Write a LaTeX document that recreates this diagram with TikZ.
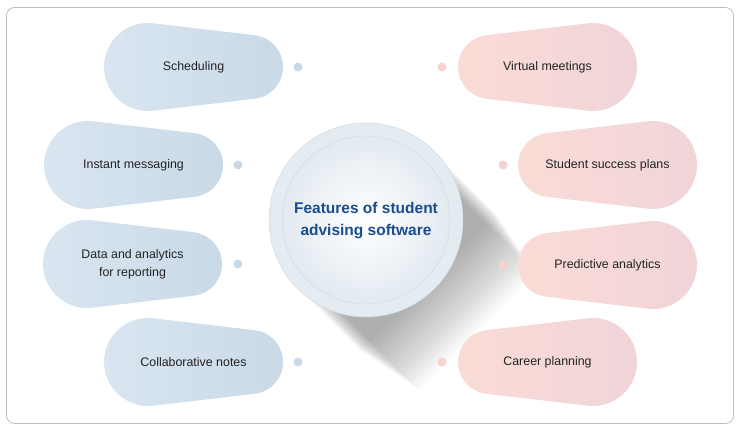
\documentclass[tikz,border=0pt]{standalone}
\usepackage{fontspec}
\setmainfont{Liberation Sans}
\usetikzlibrary{positioning,calc}
\definecolor{framegray}{HTML}{BDBDBD}
\definecolor{blueL}{HTML}{D9E6F1}
\definecolor{blueR}{HTML}{C9D9E6}
\definecolor{pinkL}{HTML}{FADCD6}
\definecolor{pinkR}{HTML}{F0D4D8}
\definecolor{bluedotc}{HTML}{CAD9E7}
\definecolor{pinkdotc}{HTML}{F6D3CF}
\definecolor{labelc}{HTML}{222222}
\definecolor{titleblue}{HTML}{1A4C8E}
\definecolor{ringc}{HTML}{E4ECF1}
\definecolor{ringedge}{HTML}{CCDAE4}
\definecolor{innerc}{HTML}{E2EAF0}
\tikzset{
  frame/.style={draw=framegray,line width=0.8pt,rounded corners=8pt},
  lblob/.style={left color=blueL,right color=blueR},
  rblob/.style={left color=pinkL,right color=pinkR},
  ldot/.style={circle,fill=bluedotc,inner sep=0pt,minimum size=9pt},
  rdot/.style={circle,fill=pinkdotc,inner sep=0pt,minimum size=9pt},
  lbl/.style={font=\fontsize{12.4}{18}\selectfont,text=labelc,align=center},
  ttl/.style={font=\bfseries\fontsize{15.5}{22}\selectfont,text=titleblue,align=center},
  shade/.style={black,opacity=0.014},
}
\begin{document}
\begin{tikzpicture}[x=1pt,y=1pt]
  \useasboundingbox (0,0) rectangle (740,431);
  \draw[frame] (6.5,7.5) rectangle (733.5,423.5);
  % centre disc and its long shadow
  \coordinate (hubc) at (366,211);
  \foreach \k in {1,...,24}{
    \coordinate (sa) at ($(hubc)+(45:97-0.6*\k)$);
    \coordinate (sb) at ($(hubc)+(-135:97-0.6*\k)$);
    \fill[shade] (sa) -- ($(sa)+(-45:86+3*\k)$) -- ($(sb)+(-45:86+3*\k)$) -- (sb) -- cycle;
  }
  % feature blobs
  \foreach \n/\bx/\by/\s/\tx/\sty/\dsty/\dx/\t in {
      sched/148/364/1/193.5/lblob/ldot/298/Scheduling,
      imsg/88/266/1/133.5/lblob/ldot/238/Instant messaging,
      data/87/167/1/132.5/lblob/ldot/238/{Data and analytics\\for reporting},
      notes/148/69/1/193.5/lblob/ldot/298/Collaborative notes,
      meet/593/364/-1/547.5/rblob/rdot/442/Virtual meetings,
      plans/653/266/-1/607.5/rblob/rdot/503/Student success plans,
      pred/653/166/-1/607.5/rblob/rdot/503/Predictive analytics,
      career/593/69/-1/547.5/rblob/rdot/442/Career planning}{
    \begin{scope}[shift={(\bx,\by)},xscale=\s]
      \path[\sty] (83.3:44) arc[start angle=83.3,end angle=276.7,radius=44]
        -- (106.73,-31.78) arc[start angle=-83.3,end angle=83.3,radius=32] -- cycle;
    \end{scope}
    \node[lbl] (\n) at (\tx,\by) {\t};
    \node[\dsty] (\n-dot) at (\dx,\by) {};
  }
  \node[circle,minimum size=194pt,fill=ringc,draw=ringedge,line width=0.5pt] (hub) at (hubc) {};
  \node[circle,minimum size=168pt,inner color=white,outer color=innerc,draw=ringedge,line width=0.4pt] (disc) at (hub.center) {};
  \node[ttl] (title) at (366,210) {Features of student\\advising software};
\end{tikzpicture}
\end{document}
